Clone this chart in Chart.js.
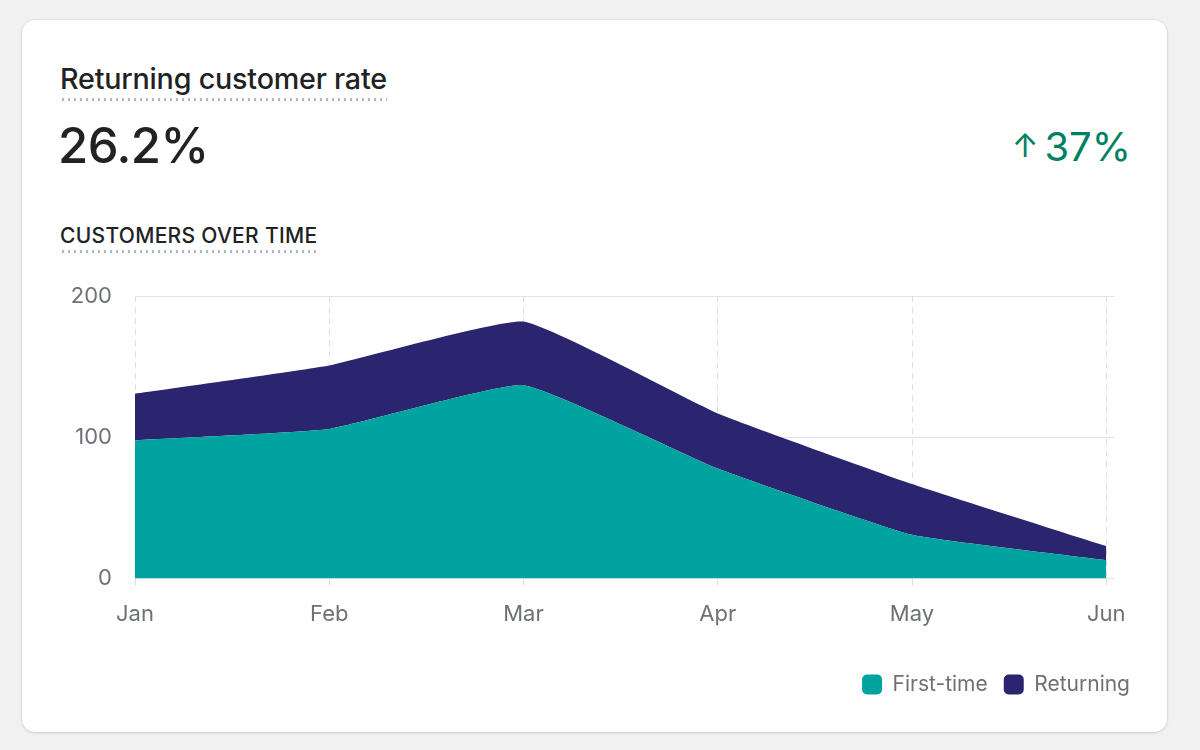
<!DOCTYPE html>
<html>
<head>
<meta charset="utf-8">
<script src="https://cdn.jsdelivr.net/npm/chart.js@4.4.1/dist/chart.umd.min.js"></script>
<style>
  html, body { margin: 0; padding: 0; }
  body {
    width: 1200px; height: 750px; background: #f1f1f1;
    font-family: Inter, "Noto Sans", sans-serif; position: relative; overflow: hidden;
  }
  .card {
    position: absolute; left: 22px; top: 20px; width: 1145px; height: 712px;
    background: #fff; border-radius: 13px;
    box-shadow: 0 1px 3px rgba(0,0,0,0.12), 0 0 0 1px rgba(0,0,0,0.04);
  }
  .dotted {
    background-image: radial-gradient(circle, #a9b6c8 1.2px, transparent 1.5px);
    background-size: 6px 3px; background-repeat: repeat-x; background-position: 0 100%;
    padding-bottom: 5px;
  }
  .title {
    position: absolute; left: 38px; top: 41px; font-size: 28.7px; font-weight: 500;
    color: #202223; letter-spacing: -0.2px;
  }
  .value {
    position: absolute; left: 36px; top: 96px; font-size: 49px; font-weight: 500;
    color: #202223; letter-spacing: -0.5px;
  }
  .change {
    position: absolute; right: 36px; top: 102px; font-size: 40px; font-weight: 400;
    color: #008060;
  }
  .change .arrow { font-size: 32px; position: relative; top: -4px; margin-right: 6px; }
  .subtitle {
    position: absolute; left: 38px; top: 203px; font-size: 21px; font-weight: 500;
    color: #202223; letter-spacing: 0.3px;
  }
  .chart-box { position: absolute; left: 38px; top: 240px; width: 1086px; height: 445px; }
</style>
</head>
<body>
<div class="card">
  <div class="title"><span class="dotted">Returning customer rate</span></div>
  <div class="value">26.2%</div>
  <div class="change"><span class="arrow">↑</span>37%</div>
  <div class="subtitle"><span class="dotted">CUSTOMERS OVER TIME</span></div>
  <div class="chart-box"><canvas id="customersChart"></canvas></div>
</div>
<script>
const months = ['Jan', 'Feb', 'Mar', 'Apr', 'May', 'Jun'];
const firstTime = [98, 106, 137, 78, 31, 13];
const returning = [33, 45, 45, 39, 36, 10];
const yTicks = [0, 100, 200];

const toPoints = values => values.map((v, i) => ({ x: i, y: v }));

const ctx = document.getElementById('customersChart').getContext('2d');
new Chart(ctx, {
    type: 'line',
    data: {
        datasets: [
            {
                label: 'First-time',
                data: toPoints(firstTime),
                backgroundColor: '#00a39f',
                borderColor: '#00a39f',
                borderWidth: 0,
                fill: 'origin',
                pointRadius: 0,
                tension: 0.12
            },
            {
                label: 'Returning',
                data: toPoints(returning),
                backgroundColor: '#2b2570',
                borderColor: '#2b2570',
                borderWidth: 0,
                fill: '-1',
                pointRadius: 0,
                tension: 0.12
            }
        ]
    },
    options: {
        responsive: true,
        maintainAspectRatio: false,
        animation: false,
        layout: { padding: { top: 12, right: 0, left: 0, bottom: 0 } },
        plugins: {
            tooltip: { enabled: false },
            legend: {
                position: 'bottom',
                align: 'end',
                labels: {
                    boxWidth: 20,
                    boxHeight: 20,
                    useBorderRadius: true,
                    borderRadius: 5,
                    padding: 16,
                    color: '#6d7175',
                    font: { family: 'Inter', size: 21 }
                }
            }
        },
        scales: {
            x: {
                type: 'linear',
                min: 0,
                max: 5.045,
                afterFit: scale => { scale.height += 15; },
                ticks: {
                    stepSize: 1,
                    includeBounds: false,
                    autoSkip: false,
                    maxRotation: 0,
                    padding: 15,
                    color: '#6d7175',
                    font: { family: 'Inter', size: 22 },
                    callback: v => months[v]
                },
                grid: {
                    color: '#dcdee0',
                    tickColor: '#dcdee0',
                    tickLength: 8,
                    borderDash: [6, 5],
                    tickBorderDash: [6, 5]
                },
                border: { display: false, dash: [6, 5] }
            },
            y: {
                stacked: true,
                min: 0,
                max: 200,
                afterFit: scale => { scale.width = 75; },
                afterBuildTicks: scale => { scale.ticks = yTicks.map(v => ({ value: v })); },
                ticks: {
                    padding: 23,
                    color: '#6d7175',
                    font: { family: 'Inter', size: 22 }
                },
                grid: { color: '#e1e3e5', drawTicks: false },
                border: { display: false }
            },
            // empty right-hand gutter so the legend can sit further right than the plot
            gutter: {
                type: 'linear',
                position: 'right',
                afterFit: scale => { scale.width = 31; },
                ticks: { display: false },
                grid: { display: false, drawTicks: false },
                border: { display: false }
            }
        }
    }
});
</script>
</body>
</html>
